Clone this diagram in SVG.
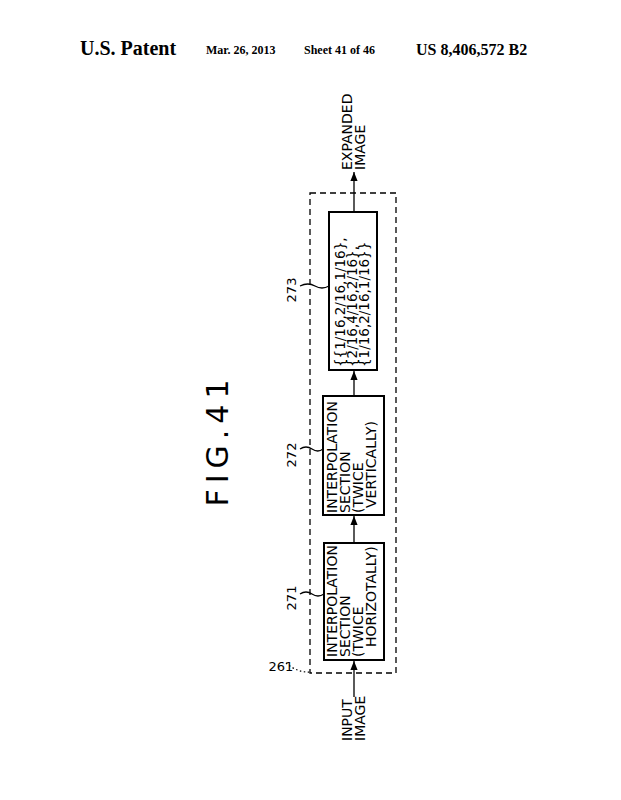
<svg xmlns="http://www.w3.org/2000/svg" width="621" height="800" viewBox="0 0 621 800">
<style>
.h{font-family:"Liberation Serif",serif;font-weight:bold;font-size:15px}
.hs{font-family:"Liberation Serif",serif;font-weight:bold;font-size:12px}
.t{font-family:"DejaVu Sans",sans-serif;font-size:14px}
.m{font-family:"DejaVu Sans",sans-serif;font-size:13.5px}
.n{font-family:"DejaVu Sans",sans-serif;font-size:13px;text-anchor:middle}
.b{fill:none;stroke:#000;stroke-width:2}
.l{fill:none;stroke:#000;stroke-width:1.3}
</style>
<defs><marker id="a" viewBox="0 0 10 10" refX="10" refY="5" markerWidth="7" markerHeight="7" orient="auto"><path d="M0,1L10,5L0,9z"/></marker></defs>
<rect width="621" height="800" fill="#fff"/>
<text x="80" y="55" class="h" style="font-size:20px">U.S. Patent</text>
<text x="206" y="54" class="hs">Mar. 26, 2013</text>
<text x="304" y="54" class="hs">Sheet 41 of 46</text>
<text x="416" y="55" class="h" style="font-size:16px">US 8,406,572 B2</text>
<text transform="translate(228,440) rotate(-90)" style="font-family:'DejaVu Sans',sans-serif;font-size:30px;letter-spacing:6px" text-anchor="middle">FIG.41</text>
<rect x="310" y="193" width="86" height="480" fill="none" stroke="#000" stroke-width="1.3" stroke-dasharray="6,4"/>
<g id="n271"><rect class="b" x="324" y="543" width="60" height="117"/>
<text transform="translate(0,657) rotate(-90)" class="t"><tspan x="0" y="337">INTERPOLATION</tspan><tspan x="0" y="350">SECTION</tspan><tspan x="0" y="363">(TWICE</tspan><tspan x="10" y="376">HORIZOTALLY)</tspan></text></g>
<g id="n272"><rect class="b" x="323" y="396" width="61" height="119"/>
<text transform="translate(0,513) rotate(-90)" class="t"><tspan x="0" y="337">INTERPOLATION</tspan><tspan x="0" y="350">SECTION</tspan><tspan x="0" y="363">(TWICE</tspan><tspan x="5" y="376">VERTICALLY)</tspan></text></g>
<g id="n273"><rect class="b" x="329" y="212" width="48" height="158"/>
<text transform="translate(0,367) rotate(-90)" class="m"><tspan x="0" y="345">{{1/16,2/16,1/16},</tspan><tspan x="0" y="357">{2/16,4/16,2/16},</tspan><tspan x="0" y="369">{1/16,2/16,1/16}}</tspan></text></g>
<g id="in"><text transform="translate(0,741) rotate(-90)" class="t"><tspan x="0" y="352">INPUT</tspan><tspan x="0" y="365">IMAGE</tspan></text></g>
<g id="out"><text transform="translate(0,170) rotate(-90)" class="t"><tspan x="0" y="352">EXPANDED</tspan><tspan x="0" y="365">IMAGE</tspan></text></g>
<g id="connectors">
<line class="l" x1="354" y1="697" x2="354" y2="661" marker-end="url(#a)"/>
<line class="l" x1="354" y1="543" x2="354" y2="516" marker-end="url(#a)"/>
<line class="l" x1="354" y1="396" x2="354" y2="371" marker-end="url(#a)"/>
<line class="l" x1="354" y1="212" x2="354" y2="172" marker-end="url(#a)"/>
<path class="l" d="M300,594 q6,-4 12,0 t12,0"/>
<path class="l" d="M300,449 q6,-4 12,0 t11,0"/>
<path class="l" d="M300,286 q8,-4 15,0 t14,0"/>
<path d="M286,663 q12,10 24,9" fill="none" stroke="#000" stroke-width="1.2" stroke-dasharray="1.5,2.5"/>
</g>
<text transform="translate(296,598) rotate(-90)" class="n">271</text>
<text transform="translate(296,455) rotate(-90)" class="n">272</text>
<text transform="translate(296,290) rotate(-90)" class="n">273</text>
<text x="281" y="671" class="n">261</text>
</svg>
